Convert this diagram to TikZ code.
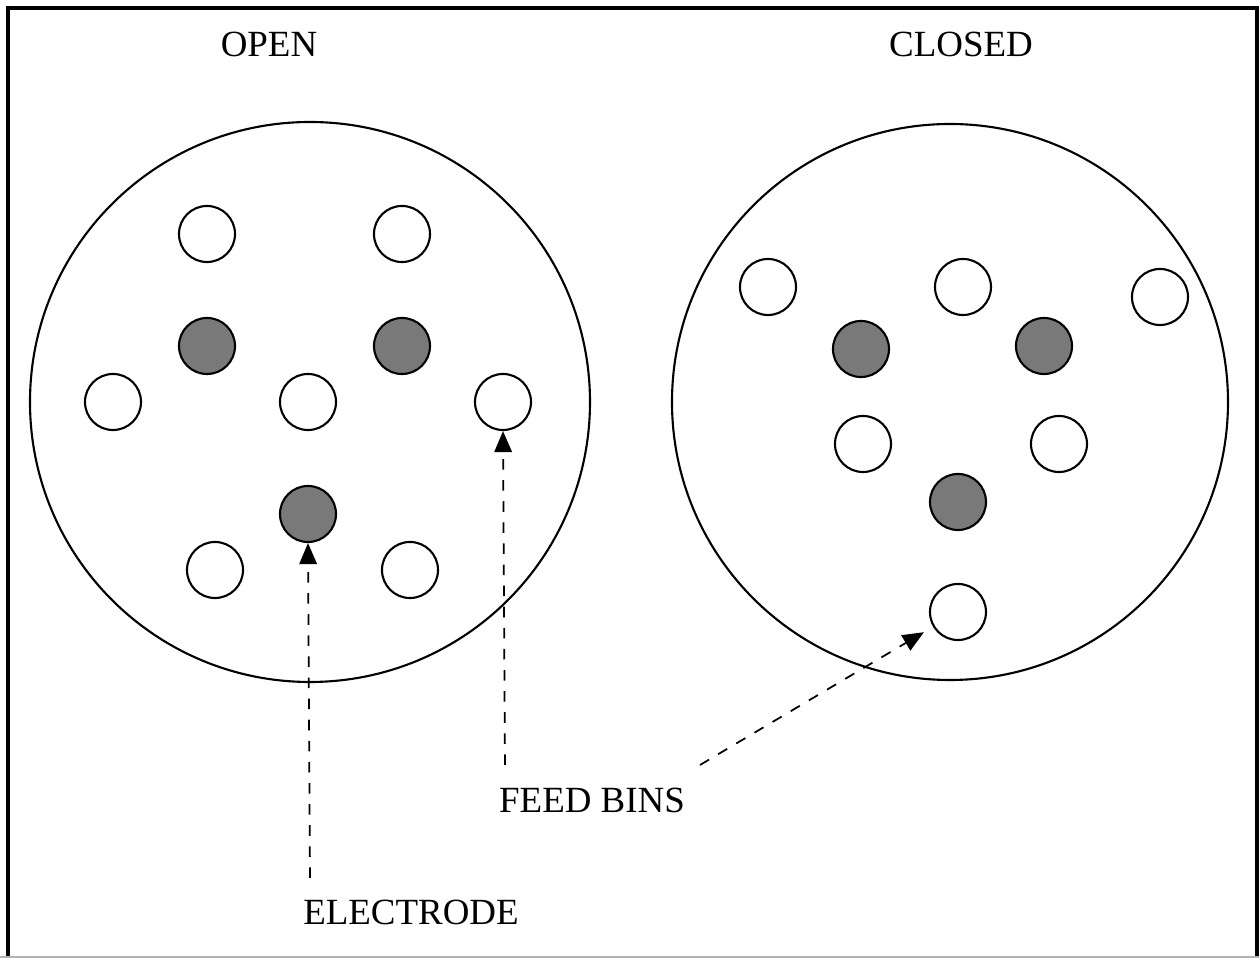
\documentclass[tikz,border=0pt]{standalone}
\usepackage{fontspec}
\setmainfont{Liberation Serif}
\usetikzlibrary{arrows.meta}

\tikzset{
  bin/.style={circle, draw, line width=0.6pt, fill=white, minimum size=0.56cm, inner sep=0pt},
  electrode/.style={bin, fill=gray!95!black},
  pointer/.style={dashed, line width=0.5pt, -{Triangle[length=6pt,width=5pt]}},
  label/.style={font=\fontsize{10.5}{12}\selectfont}
}

\begin{document}
\begin{tikzpicture}[x=0.01cm, y=-0.01cm]
    % Marco
    \useasboundingbox (0,0) rectangle (1259,958);
    \draw[line width=0.9pt] (8,958) -- (8,8) -- (1257,8) -- (1257,958);
    \draw[gray!60, line width=0.4pt] (0,957) -- (1259,957);

    % Titulos
    \node[label] (open) at (269,44) {OPEN};
    \node[label] (closed) at (961,44) {CLOSED};

    % Dibuja los discos grandes
    \draw[line width=0.6pt] (310,402) circle [radius=280];
    \draw[line width=0.6pt] (950,402) circle [radius=278];

    % Disco abierto
    \node[bin] (a1) at (207,234) {};
    \node[bin] (a2) at (402,234) {};
    \node[bin] (a3) at (113,402) {};
    \node[bin] (a4) at (308,402) {};
    \node[bin] (a5) at (503,402) {};
    \node[bin] (a6) at (215,570) {};
    \node[bin] (a7) at (410,570) {};
    \node[electrode] (ae1) at (207,346) {};
    \node[electrode] (ae2) at (402,346) {};
    \node[electrode] (ae3) at (308,514) {};

    % Disco cerrado
    \node[bin] (c1) at (768,287) {};
    \node[bin] (c2) at (963,287) {};
    \node[bin] (c3) at (1160,297) {};
    \node[bin] (c4) at (863,444) {};
    \node[bin] (c5) at (1059,444) {};
    \node[bin] (c6) at (958,612) {};
    \node[electrode] (ce1) at (861,349) {};
    \node[electrode] (ce2) at (1044,346) {};
    \node[electrode] (ce3) at (958,502) {};

    % Etiquetas de abajo
    \node[label] (feed) at (592,800) {FEED BINS};
    \node[label] (elec) at (411,912) {ELECTRODE};

    % Flechas
    \coordinate (elecstart) at (310,878);
    \coordinate (feedstartA) at (505,765);
    \coordinate (feedstartB) at (700,765);
    \draw[pointer] (elecstart) -- (ae3.south);
    \draw[pointer] (feedstartA) -- (a5.south);
    \draw[pointer, shorten >=3pt] (feedstartB) -- (c6);
\end{tikzpicture}
\end{document}
